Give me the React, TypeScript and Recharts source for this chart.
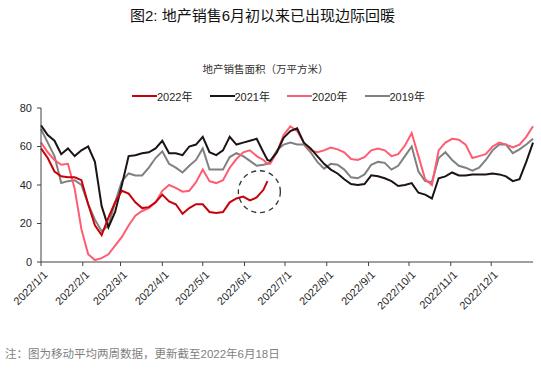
import React from 'react';
import { LineChart, Line, XAxis, YAxis, ReferenceDot } from 'recharts';

// day of year (2022/1/1 = 0), sampled about every 5 days
const days = [
  0, 5, 10, 15, 20, 25, 30, 35, 40, 45, 50, 55, 60, 65, 70, 75, 80, 85, 90, 95,
  100, 105, 110, 115, 120, 125, 130, 135, 140, 145, 150, 155, 160, 165, 168, 170, 175, 180, 185, 190,
  195, 200, 205, 210, 215, 220, 225, 230, 235, 240, 245, 250, 255, 260, 265, 270, 275, 280, 285, 290,
  295, 300, 305, 310, 315, 320, 325, 330, 335, 340, 345, 350, 355, 360, 365,
];

// 2022 stops at 6/18
const sales2022 = [
  59, 54, 47, 44.5, 44, 44, 42.5, 30, 19, 14, 23, 31, 37, 35.5, 31, 28, 28.5, 31, 35, 31.5,
  30, 25, 28, 30, 30, 26, 25.5, 26, 31, 33, 34, 32, 33.5, 37.5, 42,
];
const sales2021 = [
  71, 66, 63, 56, 59, 55, 58, 60, 52, 29, 18, 26, 40, 55, 55.5, 56.5, 57, 59, 63, 56.5,
  56.5, 55.5, 60, 61, 65, 57, 55.5, 58, 65, 61, 62, 63, 64, 57, 53, 52.5, 57, 64.5, 68, 69.5,
  62, 59, 55, 51, 48, 46, 43, 40.5, 40, 40.5, 45, 44.5, 43.5, 42, 39.5, 40, 41, 36, 35, 33,
  43.5, 44.5, 46.5, 45, 45, 45.5, 45.5, 45.5, 46, 45.5, 44.5, 42, 43, 52, 62,
];
const sales2020 = [
  62, 57, 53, 50.5, 51, 38, 17, 4, 1, 2, 4, 8.5, 13, 19, 24, 26.5, 28, 31, 37, 40,
  38.5, 36.5, 37, 41.5, 48, 42, 41, 42.5, 49, 53.5, 57, 58, 55, 53, 51, 51, 57, 66, 70.5, 68,
  62, 58, 57, 58, 59.5, 58.5, 57, 53.5, 53, 54.5, 58, 59, 58, 55, 56, 60.5, 67, 55, 43, 40,
  58, 62, 64, 63.5, 61, 54, 55, 56, 60, 62, 61, 59.5, 61, 65, 70.5,
];
const sales2019 = [
  69, 62, 55, 41, 42, 42.5, 40, 30, 22, 16, 19, 31, 42, 46, 45, 45, 49, 54, 57.5, 51,
  49, 46.5, 50, 53, 59, 48, 48, 48, 54.5, 56.5, 55, 52.5, 50, 50.5, 51, 52, 58, 61, 62, 61,
  61, 57, 52, 48.5, 51, 50.5, 48, 44, 43.5, 45.5, 50.5, 52, 51.5, 48, 50, 55, 60, 47, 42, 41.5,
  54, 57, 53, 50, 49, 47.5, 49, 53, 58, 61, 61, 56.5, 58.5, 61, 64,
];

const monthTicks = [0, 31, 59, 90, 120, 151, 181, 212, 243, 273, 304, 334];
const monthLabels = [
  '2022/1/1', '2022/2/1', '2022/3/1', '2022/4/1', '2022/5/1', '2022/6/1',
  '2022/7/1', '2022/8/1', '2022/9/1', '2022/10/1', '2022/11/1', '2022/12/1',
];
const yTicks = [0, 20, 40, 60, 80];

// circled point: early June pickup
const markDay = 162;
const markValue = 36.5;

const seriesList = [
  { key: 'y2022', name: '2022年', color: '#c8000a' },
  { key: 'y2021', name: '2021年', color: '#1c1412' },
  { key: 'y2020', name: '2020年', color: '#ff5c72' },
  { key: 'y2019', name: '2019年', color: '#808080' },
];
// draw order, back to front
const drawOrder = ['y2019', 'y2020', 'y2021', 'y2022'];

const data = days.map((d, i) => ({
  day: d,
  y2022: sales2022[i] ?? null,
  y2021: sales2021[i] ?? null,
  y2020: sales2020[i] ?? null,
  y2019: sales2019[i] ?? null,
}));

const FONT = '"Liberation Sans", Arial, "Noto Sans CJK SC", sans-serif';

const DateTick = (props: any) => {
  const { x, y, payload } = props;
  const idx = monthTicks.indexOf(payload.value);
  return (
    <g transform={`translate(${x + 1},${y + 5})`}>
      <text
        x={2}
        y={0}
        dy={7}
        textAnchor="end"
        transform="rotate(-45)"
        fontSize={11}
        fontFamily={FONT}
        fill="#262626"
      >
        {monthLabels[idx]}
      </text>
    </g>
  );
};

export default function App() {
  return (
    <div
      style={{
        position: 'absolute',
        left: 0,
        top: 0,
        width: 541,
        height: 372,
        background: '#fff',
        fontFamily: FONT,
        overflow: 'hidden',
      }}
    >
      <div
        style={{
          position: 'absolute',
          left: 0,
          top: 6,
          width: 525,
          textAlign: 'center',
          fontSize: 15,
          lineHeight: '20px',
          color: '#111',
        }}
      >
        图2: 地产销售6月初以来已出现边际回暖
      </div>
      <div
        style={{
          position: 'absolute',
          left: 0,
          top: 61,
          width: 531,
          textAlign: 'center',
          fontSize: 10.5,
          lineHeight: '16px',
          color: '#333',
        }}
      >
        地产销售面积（万平方米）
      </div>
      <div style={{ position: 'absolute', left: 132, top: 88, display: 'flex' }}>
        {seriesList.map((s) => (
          <div key={s.key} style={{ width: 77.5, display: 'flex', alignItems: 'center', height: 16 }}>
            <span style={{ width: 25, height: 2.5, background: s.color, display: 'inline-block' }} />
            <span style={{ fontSize: 11, color: '#262626' }}>{s.name}</span>
          </div>
        ))}
      </div>
      <div style={{ position: 'absolute', left: 0, top: 0 }}>
        <LineChart
          width={541}
          height={372}
          data={data}
          margin={{ top: 108, right: 8, bottom: 60, left: 0 }}
        >
          <XAxis
            dataKey="day"
            type="number"
            domain={[0, 365]}
            ticks={monthTicks}
            interval={0}
            height={50}
            tickSize={4}
            tickMargin={1}
            stroke="#404040"
            tick={<DateTick />}
          />
          <YAxis
            type="number"
            domain={[0, 80]}
            ticks={yTicks}
            width={41}
            tickSize={4}
            tickMargin={5}
            stroke="#404040"
            tick={{ fontSize: 11, fill: '#262626', fontFamily: FONT }}
          />
          {drawOrder.map((k) => {
            const s = seriesList.find((x) => x.key === k)!;
            return (
              <Line
                key={k}
                type="linear"
                dataKey={k}
                name={s.name}
                stroke={s.color}
                strokeWidth={2}
                dot={false}
                isAnimationActive={false}
              />
            );
          })}
          <ReferenceDot
            x={markDay}
            y={markValue}
            r={21}
            fill="none"
            stroke="#333"
            strokeWidth={1.3}
            strokeDasharray="5 4"
          />
        </LineChart>
      </div>
      <div
        style={{
          position: 'absolute',
          left: 5,
          top: 346,
          fontSize: 11.5,
          lineHeight: '16px',
          color: '#7f7f7f',
        }}
      >
        注：图为移动平均两周数据，更新截至2022年6月18日
      </div>
    </div>
  );
}
